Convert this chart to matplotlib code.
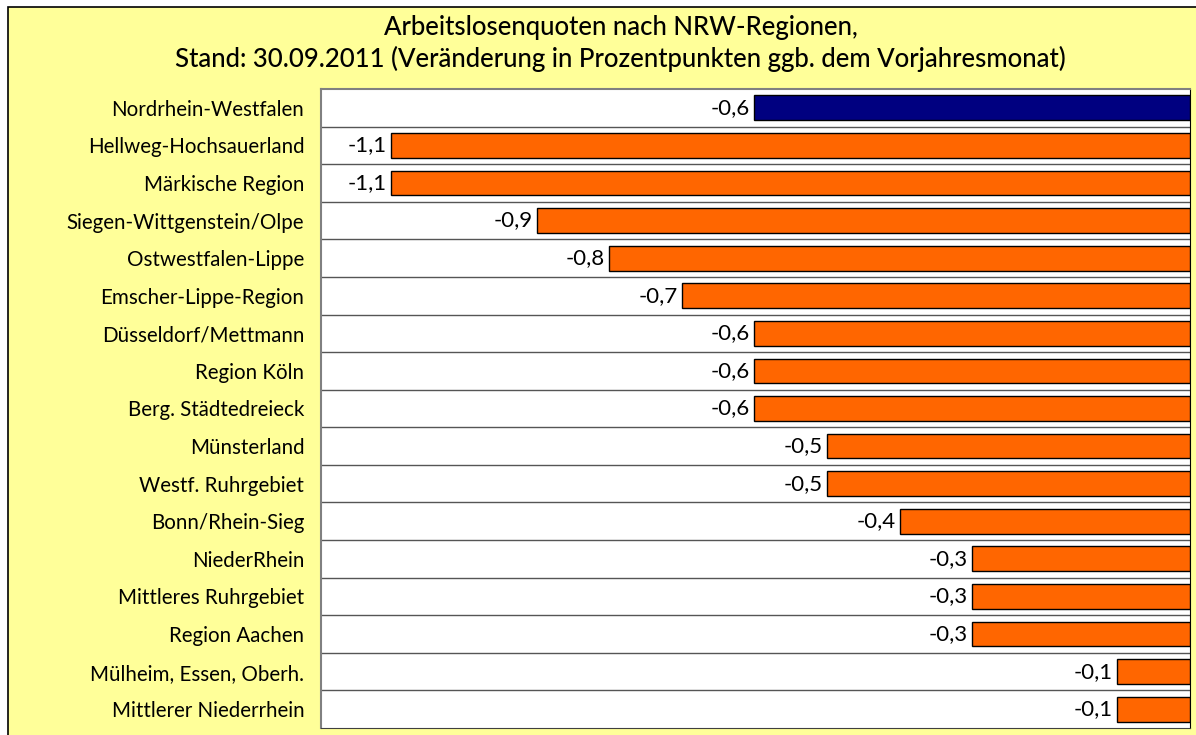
import matplotlib.pyplot as plt
from matplotlib.patches import Rectangle

regions = [
    "Nordrhein-Westfalen", "Hellweg-Hochsauerland", "Märkische Region",
    "Siegen-Wittgenstein/Olpe", "Ostwestfalen-Lippe", "Emscher-Lippe-Region",
    "Düsseldorf/Mettmann", "Region Köln", "Berg. Städtedreieck", "Münsterland",
    "Westf. Ruhrgebiet", "Bonn/Rhein-Sieg", "NiederRhein", "Mittleres Ruhrgebiet",
    "Region Aachen", "Mülheim, Essen, Oberh.", "Mittlerer Niederrhein",
]
changes = [-0.6, -1.1, -1.1, -0.9, -0.8, -0.7, -0.6, -0.6, -0.6, -0.5,
           -0.5, -0.4, -0.3, -0.3, -0.3, -0.1, -0.1]
colors = ["#000080"] + ["#FF6600"] * (len(regions) - 1)

plt.rcParams['font.family'] = ['Lato', 'DejaVu Sans']

fig = plt.figure(figsize=(11.96, 7.35), dpi=100)
fig.patch.set_facecolor("white")

# yellow panel with thin black border (right and bottom run off the image)
panel = Rectangle((8 / 1196, -0.05), 1.05, 1.05 - 7 / 735, transform=fig.transFigure,
                  facecolor="#FFFF99", edgecolor="black", linewidth=1.2, zorder=-5)
fig.patches.append(panel)

ax = fig.add_axes([321 / 1196, 1 - 728 / 735, (1190 - 321) / 1196, (728 - 89) / 735])
ax.set_zorder(2)
ax.set_facecolor("white")

y = list(range(len(regions)))
ax.barh(y, changes, height=0.66, color=colors, edgecolor="black", linewidth=1, zorder=3)

ax.set_xlim(-1.197, 0)
ax.set_ylim(len(regions) - 0.5, -0.5)

for i, v in enumerate(changes):
    ax.text(v - 0.006, i, f"{v:.1f}".replace(".", ","), ha="right", va="center",
            fontsize=16, color="black", zorder=4)

# row separators
for b in range(1, len(regions)):
    ax.axhline(b - 0.5, color="#555555", linewidth=1, zorder=1)

ax.set_xticks([])
ax.set_yticks(y)
ax.set_yticklabels(regions, fontsize=14.8)
ax.tick_params(axis="y", length=0, pad=12)
for side in ["left", "top"]:
    ax.spines[side].set_color("#808080")
    ax.spines[side].set_linewidth(1.5)
ax.spines["right"].set_color("black")
ax.spines["bottom"].set_color("#404040")

fig.text(0.519, 1 - 28 / 735, "Arbeitslosenquoten nach NRW-Regionen,", ha="center",
         va="center", fontsize=18.5, weight="medium")
fig.text(0.519, 1 - 59 / 735,
         "Stand: 30.09.2011 (Veränderung in Prozentpunkten ggb. dem Vorjahresmonat)",
         ha="center", va="center", fontsize=18.5, weight="medium")

fig.savefig("out.png", dpi=100)
